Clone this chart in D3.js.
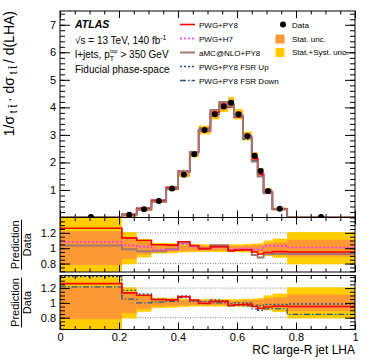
<!DOCTYPE html>
<html>
<head>
<meta charset="utf-8">
<script src="https://cdn.jsdelivr.net/npm/d3@7"></script>
<style>
body { margin: 0; background: #fff; }
text { font-family: "Liberation Sans", Arial, sans-serif; }
</style>
</head>
<body>
<div id="chart"></div>
<script>
// bin edges of the RC large-R jet LHA distribution
const binEdges = [0, 0.21, 0.26, 0.31, 0.36, 0.40, 0.44, 0.47, 0.51, 0.54, 0.57, 0.59, 0.62, 0.65, 0.67, 0.69, 0.72, 0.77, 1.0];
// unfolded data, 1/sigma dsigma/dLHA
const dataVals = [0.02, 0.10, 0.30, 0.60, 1.05, 1.55, 2.30, 3.18, 3.75, 4.03, 4.17, 3.75, 2.96, 2.24, 1.69, 0.96, 0.32, 0.02];
// relative uncertainties
const statUnc = [0.22, 0.14, 0.08, 0.045, 0.04, 0.035, 0.03, 0.03, 0.03, 0.03, 0.03, 0.03, 0.035, 0.04, 0.045, 0.06, 0.075, 0.11];
const totUnc = [0.45, 0.21, 0.12, 0.07, 0.065, 0.055, 0.05, 0.05, 0.05, 0.05, 0.05, 0.05, 0.055, 0.06, 0.065, 0.10, 0.125, 0.21];
// prediction / data
const ratioPwgPy8 = [1.26, 1.135, 1.10, 1.045, 1.04, 1.085, 1.035, 0.995, 1.02, 1.02, 0.965, 0.975, 0.98, 0.95, 0.925, 0.945, 0.955, 0.95];
const ratioPwgH7 = [1.085, 1.035, 1.02, 0.98, 0.98, 1.055, 1.02, 0.99, 1.01, 1.02, 0.98, 0.99, 1.0, 0.985, 0.98, 1.03, 1.03, 1.01];
const ratioAmc = [1.035, 0.985, 0.96, 0.96, 0.985, 1.07, 1.03, 0.995, 1.04, 1.04, 0.97, 0.98, 0.975, 0.91, 0.88, 0.92, 0.925, 0.925];
const ratioFsrUp = [1.355, 1.17, 1.12, 1.05, 1.04, 1.09, 1.04, 1.02, 1.04, 1.03, 0.99, 1.0, 1.0, 0.97, 0.96, 0.98, 0.98, 0.985];
const ratioFsrDown = [1.215, 1.05, 1.0, 1.01, 1.02, 1.07, 1.02, 0.99, 1.0, 1.0, 0.96, 0.97, 0.96, 0.92, 0.9, 0.92, 0.92, 0.845];

const xTicks = [0, 0.2, 0.4, 0.6, 0.8, 1];
const mainTicks = [1, 2, 3, 4, 5, 6, 7];
const ratioTicks = [0.8, 1, 1.2];

const width = 374, height = 363;
const left = 60, right = 355;

const svg = d3.select("#chart").append("svg")
    .attr("width", width)
    .attr("height", height);

const x = d3.scaleLinear().domain([0, 1]).range([left, right]);
const yMain = d3.scaleLinear().domain([0, 7.5]).range([217.5, 11]);
const yR1 = d3.scaleLinear().domain([0.69, 1.40]).range([272, 217.5]);
const yR2 = d3.scaleLinear().domain([0.64, 1.37]).range([329.5, 275.5]);

const yellow = "#ffcc00", orange = "#ff9933";

const styles = {
    pwgPy8: {color: "#ff0000", width: 1.6, dash: null},
    pwgH7: {color: "#ff33ff", width: 1.6, dash: "2,2"},
    amc: {color: "#a07a70", width: 2, dash: null},
    fsrUp: {color: "#1f4f99", width: 1.3, dash: "2,2"},
    fsrDown: {color: "#1f5a8f", width: 1.3, dash: "6,2,1.5,2"}
};

function stepLine(vals, y) {
    const pts = vals.map((v, i) => [binEdges[i], v]);
    pts.push([binEdges[binEdges.length - 1], vals[vals.length - 1]]);
    return d3.line().x(d => x(d[0])).y(d => y(d[1])).curve(d3.curveStepAfter)(pts);
}

function addClip(id, y) {
    svg.append("clipPath").attr("id", id).append("rect")
        .attr("x", left).attr("y", y.range()[1])
        .attr("width", right - left).attr("height", y.range()[0] - y.range()[1]);
}
addClip("clipMain", yMain);
addClip("clipR1", yR1);
addClip("clipR2", yR2);

function drawFrame(y, majors, minorStep, showX) {
    const g = svg.append("g");
    const y0 = y.range()[0], y1 = y.range()[1];
    const d = y.domain();
    const yMinors = d3.range(Math.ceil(d[0] / minorStep) * minorStep, d[1], minorStep);
    const xMinors = d3.range(0, 1.0001, 0.05);

    g.append("g").attr("transform", `translate(${left},0)`)
        .call(d3.axisLeft(y).tickValues(yMinors).tickSize(-5).tickFormat(""));
    g.append("g").attr("transform", `translate(${left},0)`)
        .call(d3.axisLeft(y).tickValues(majors).tickSize(-10).tickPadding(4)
            .tickFormat(v => String(+v.toFixed(2))));
    g.append("g").attr("transform", `translate(${right},0)`)
        .call(d3.axisRight(y).tickValues(yMinors).tickSize(-5).tickFormat(""));
    g.append("g").attr("transform", `translate(${right},0)`)
        .call(d3.axisRight(y).tickValues(majors).tickSize(-10).tickFormat(""));

    g.append("g").attr("transform", `translate(0,${y0})`)
        .call(d3.axisBottom(x).tickValues(xMinors).tickSize(-3.5).tickFormat(""));
    g.append("g").attr("transform", `translate(0,${y0})`)
        .call(d3.axisBottom(x).tickValues(xTicks).tickSize(-7).tickPadding(4)
            .tickFormat(showX ? (v => String(v)) : ""));
    g.append("g").attr("transform", `translate(0,${y1})`)
        .call(d3.axisTop(x).tickValues(xMinors).tickSize(-3.5).tickFormat(""));
    g.append("g").attr("transform", `translate(0,${y1})`)
        .call(d3.axisTop(x).tickValues(xTicks).tickSize(-7).tickFormat(""));

    g.selectAll(".domain").remove();
    g.selectAll(".tick line").attr("stroke", "#000");
    g.selectAll(".tick text").attr("font-size", 11).attr("fill", "#000")
        .style("font-family", "'Liberation Sans', Arial, sans-serif");

    g.append("rect").attr("x", left).attr("y", y1)
        .attr("width", right - left).attr("height", y0 - y1)
        .attr("fill", "none").attr("stroke", "#000").attr("stroke-width", 1);
}

// ---- main panel ----
const mainG = svg.append("g").attr("clip-path", "url(#clipMain)");
[[totUnc, yellow], [statUnc, orange]].forEach(([unc, col]) => {
    mainG.selectAll(null).data(dataVals).enter().append("rect")
        .attr("x", (d, i) => x(binEdges[i]))
        .attr("width", (d, i) => x(binEdges[i + 1]) - x(binEdges[i]))
        .attr("y", (d, i) => yMain(d * (1 + unc[i])))
        .attr("height", (d, i) => Math.max(2.5, yMain(d * (1 - unc[i])) - yMain(d * (1 + unc[i]))))
        .attr("fill", col);
});

const mainSeries = [
    [ratioFsrDown, styles.fsrDown],
    [ratioFsrUp, styles.fsrUp],
    [ratioPwgH7, styles.pwgH7],
    [ratioPwgPy8, styles.pwgPy8],
    [ratioAmc, styles.amc]
];
mainSeries.forEach(([r, s]) => {
    mainG.append("path")
        .attr("d", stepLine(dataVals.map((d, i) => d * r[i]), yMain))
        .attr("fill", "none").attr("stroke", s.color)
        .attr("stroke-width", s.width).attr("stroke-dasharray", s.dash);
});

mainG.selectAll(".pt").data(dataVals).enter().append("circle")
    .attr("cx", (d, i) => x((binEdges[i] + binEdges[i + 1]) / 2))
    .attr("cy", d => yMain(d))
    .attr("r", 3).attr("fill", "#000");

drawFrame(yMain, mainTicks, 0.2, false);

// ---- ratio panels ----
function ratioPanel(y, clipId, series) {
    const g = svg.append("g").attr("clip-path", `url(#${clipId})`);
    [0.8, 1.2].forEach(v => {
        g.append("line").attr("x1", left).attr("x2", right)
            .attr("y1", y(v)).attr("y2", y(v))
            .attr("stroke", "#888").attr("stroke-width", 1).attr("stroke-dasharray", "1,1.5");
    });
    [[totUnc, yellow], [statUnc, orange]].forEach(([unc, col]) => {
        g.selectAll(null).data(unc).enter().append("rect")
            .attr("x", (d, i) => x(binEdges[i]))
            .attr("width", (d, i) => x(binEdges[i + 1]) - x(binEdges[i]))
            .attr("y", d => y(1 + d))
            .attr("height", d => y(1 - d) - y(1 + d))
            .attr("fill", col);
    });
    series.forEach(([r, s]) => {
        g.append("path").attr("d", stepLine(r, y))
            .attr("fill", "none").attr("stroke", s.color)
            .attr("stroke-width", s.width).attr("stroke-dasharray", s.dash);
    });
}
ratioPanel(yR1, "clipR1", [[ratioAmc, styles.amc], [ratioPwgH7, styles.pwgH7], [ratioPwgPy8, styles.pwgPy8]]);
ratioPanel(yR2, "clipR2", [[ratioFsrDown, styles.fsrDown], [ratioFsrUp, styles.fsrUp], [ratioPwgPy8, styles.pwgPy8]]);
drawFrame(yR1, ratioTicks, 0.05, false);
drawFrame(yR2, ratioTicks, 0.05, true);

// ---- axis titles ----
svg.append("text")
    .attr("x", right).attr("y", 354)
    .attr("text-anchor", "end").attr("font-size", 12)
    .text("RC large-R jet LHA");

const yt = svg.append("text")
    .attr("transform", "translate(14,11) rotate(-90)")
    .attr("text-anchor", "end").attr("font-size", 14);
yt.append("tspan").text("1/σ");
yt.append("tspan").attr("dy", 3).attr("font-size", 10).text(" t t\u0304 ");
yt.append("tspan").attr("dy", -3).text(" · dσ");
yt.append("tspan").attr("dy", 3).attr("font-size", 10).text(" t t\u0304 ");
yt.append("tspan").attr("dy", -3).text("  / d(LHA)");

[yR1, yR2].forEach(y => {
    const cy = (y.range()[0] + y.range()[1]) / 2;
    const g = svg.append("g").attr("transform", `translate(0,${cy}) rotate(-90)`);
    g.append("text").attr("x", 0).attr("y", 19).attr("text-anchor", "middle")
        .attr("font-size", 11).text("Prediction");
    g.append("line").attr("x1", -25).attr("x2", 25).attr("y1", 21.5).attr("y2", 21.5)
        .attr("stroke", "#000").attr("stroke-width", 1);
    g.append("text").attr("x", 0).attr("y", 31).attr("text-anchor", "middle")
        .attr("font-size", 11).text("Data");
});

// ---- labels ----
svg.append("text").attr("x", 75).attr("y", 28)
    .attr("font-size", 10.5).attr("font-weight", "bold").attr("font-style", "italic")
    .text("ATLAS");
const l2 = svg.append("text").attr("x", 75).attr("y", 44).attr("font-size", 10);
l2.append("tspan").text("√s = 13 TeV, 140 fb");
l2.append("tspan").attr("dy", -4).attr("font-size", 7).text("-1");
const l3 = svg.append("text").attr("x", 75).attr("y", 58).attr("font-size", 10);
l3.append("tspan").text("l+jets, p");
l3.append("tspan").attr("dy", 2.5).attr("font-size", 7).text("T");
l3.append("tspan").attr("dx", -4).attr("dy", -8).attr("font-size", 5.5).text("top");
l3.append("tspan").attr("dy", 5.5).text(" > 350 GeV");
svg.append("text").attr("x", 75).attr("y", 73).attr("font-size", 10)
    .text("Fiducial phase-space");

// ---- legend ----
const legendNames = ["PWG+PY8", "PWG+H7", "aMC@NLO+PY8", "PWG+PY8 FSR Up", "PWG+PY8 FSR Down"];
const legendStyles = [styles.pwgPy8, styles.pwgH7, styles.amc, styles.fsrUp, styles.fsrDown];
legendNames.forEach((name, i) => {
    const cy = 24.5 + i * 14;
    const s = legendStyles[i];
    svg.append("line").attr("x1", 180).attr("x2", 195).attr("y1", cy).attr("y2", cy)
        .attr("stroke", s.color).attr("stroke-width", s.width).attr("stroke-dasharray", s.dash);
    svg.append("text").attr("x", 199).attr("y", cy + 3).attr("font-size", 8).text(name);
});
svg.append("circle").attr("cx", 283).attr("cy", 24.5).attr("r", 3).attr("fill", "#000");
svg.append("text").attr("x", 292).attr("y", 27.5).attr("font-size", 8).text("Data");
svg.append("rect").attr("x", 275.5).attr("y", 34.5).attr("width", 9).attr("height", 9).attr("fill", orange);
svg.append("text").attr("x", 292).attr("y", 41.5).attr("font-size", 8).text("Stat. unc.");
svg.append("rect").attr("x", 275.5).attr("y", 48).attr("width", 9).attr("height", 9).attr("fill", yellow);
svg.append("text").attr("x", 292).attr("y", 55).attr("font-size", 8).text("Stat.+Syst. unc.");
</script>
</body>
</html>
